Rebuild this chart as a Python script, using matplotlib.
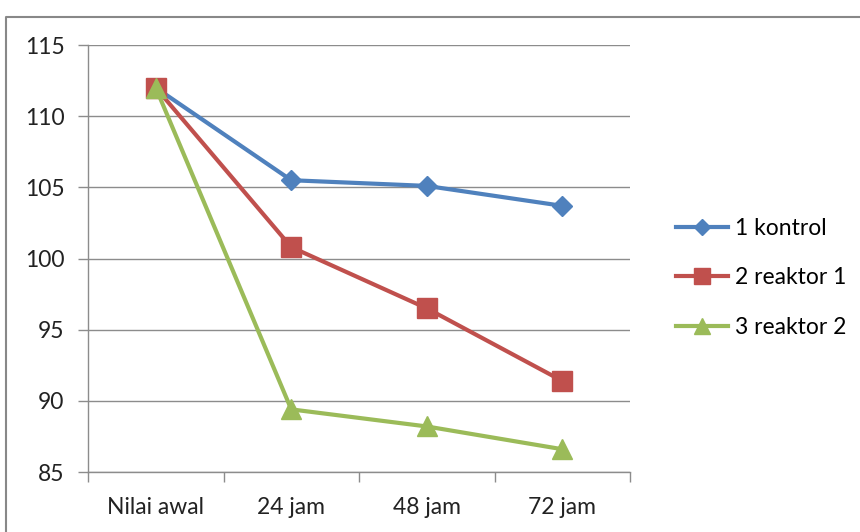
import matplotlib
matplotlib.use("Agg")
import matplotlib.pyplot as plt
from matplotlib.lines import Line2D

categories = ["Nilai awal", "24 jam", "48 jam", "72 jam"]
kontrol = [112.0, 105.5, 105.1, 103.7]
reaktor_1 = [112.0, 100.8, 96.5, 91.4]
reaktor_2 = [112.0, 89.4, 88.2, 86.6]
series_names = ["1 kontrol", "2 reaktor 1", "3 reaktor 2"]
y_ticks = [85, 90, 95, 100, 105, 110, 115]

plt.rcParams["font.family"] = ["Lato", "DejaVu Sans"]

fig = plt.figure(figsize=(8.6, 5.32), dpi=100)
ax = fig.add_axes([88 / 860, 1 - 472 / 532, (630 - 88) / 860, (472 - 45) / 532])

grid_c = "#8c8c8c"
x = list(range(len(categories)))
ax.plot(x, kontrol, color="#4F81BD", lw=3, marker="D", ms=10.5, label=series_names[0], zorder=3)
ax.plot(x, reaktor_1, color="#C0504D", lw=3, marker="s", ms=15, label=series_names[1], zorder=4)
ax.plot(x, reaktor_2, color="#9BBB59", lw=3, marker="^", ms=15, label=series_names[2], zorder=5)

ax.set_xlim(-0.5, len(categories) - 0.5)
ax.set_ylim(y_ticks[0], y_ticks[-1])
ax.set_yticks(y_ticks)
ax.set_xticks(x)
ax.set_xticklabels(categories)
ax.set_xticks([i - 0.5 for i in range(len(categories) + 1)], minor=True)
ax.tick_params(axis="x", which="major", length=0, pad=18, labelsize=16.5, colors="#222222")
ax.tick_params(axis="x", which="minor", length=7, width=1, color=grid_c, direction="out")
ax.tick_params(axis="y", length=7, width=1, color=grid_c, pad=10, labelsize=16.5, labelcolor="#222222")

ax.yaxis.grid(True, color=grid_c, lw=1)
ax.set_axisbelow(True)
for s in ["top", "right"]:
    ax.spines[s].set_visible(False)
for s in ["left", "bottom"]:
    ax.spines[s].set_color(grid_c)
    ax.spines[s].set_linewidth(1)

handles = [
    Line2D([], [], color="#4F81BD", lw=3, marker="D", ms=8),
    Line2D([], [], color="#C0504D", lw=3, marker="s", ms=11),
    Line2D([], [], color="#9BBB59", lw=3, marker="^", ms=11),
]
fig.legend(handles, series_names, loc="center left", bbox_to_anchor=(655 / 860, 1 - 278 / 532),
           frameon=False, fontsize=16.5, handlelength=2.3, handletextpad=0.3, labelspacing=1.25)

# outer chart frame
fig.add_artist(Line2D([6 / 860, 6 / 860, 1.0], [0.0, 1 - 17 / 532, 1 - 17 / 532],
                      transform=fig.transFigure, color="#888888", lw=1.5))

fig.savefig("out.png", dpi=100)
